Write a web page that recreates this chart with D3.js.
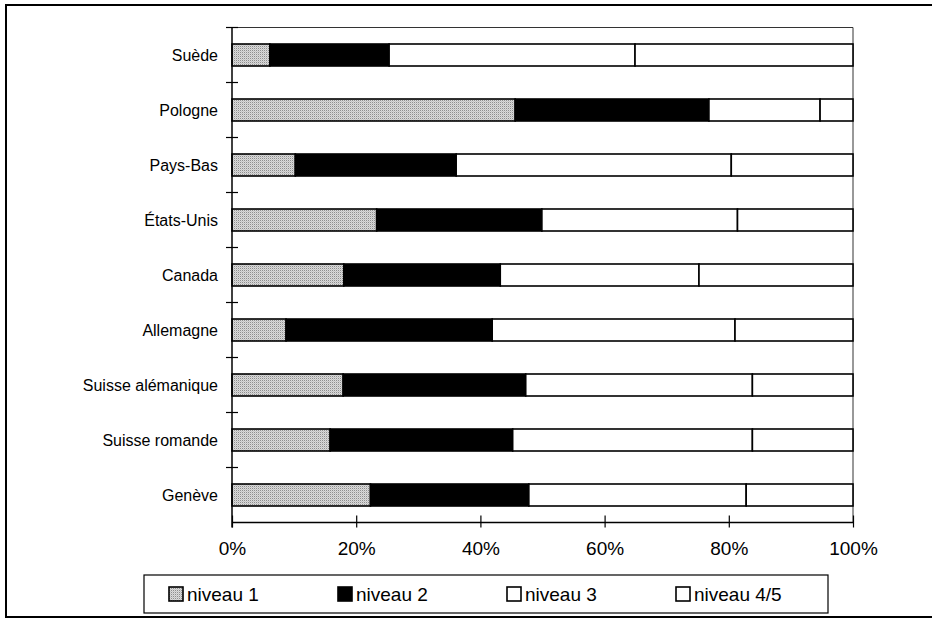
<!DOCTYPE html>
<html>
<head>
<meta charset="utf-8">
<script src="https://cdn.jsdelivr.net/npm/d3@7"></script>
<style>
  html, body { margin: 0; padding: 0; background: #fff; }
  svg { display: block; font-family: "Liberation Sans", Arial, Helvetica, sans-serif; }
</style>
</head>
<body>
<svg id="chart" width="932" height="620"></svg>
<script>
const categories = ["Suède", "Pologne", "Pays-Bas", "États-Unis", "Canada", "Allemagne", "Suisse alémanique", "Suisse romande", "Genève"];
const seriesNames = ["niveau 1", "niveau 2", "niveau 3", "niveau 4/5"];
const niveau1  = [6.1, 45.6, 10.2, 23.3, 18.0, 8.7, 17.9, 15.8, 22.3];
const niveau2  = [19.2, 31.2, 25.9, 26.6, 25.2, 33.2, 29.4, 29.4, 25.5];
const niveau3  = [39.6, 17.9, 44.3, 31.5, 32.0, 39.1, 36.5, 38.6, 35.0];
const niveau45 = [35.1, 5.3, 19.6, 18.6, 24.8, 19.0, 16.2, 16.2, 17.2];
const xTickValues = [0, 20, 40, 60, 80, 100];
const xTickLabels = ["0%", "20%", "40%", "60%", "80%", "100%"];

const rows = categories.map((c, i) => ({
  cat: c,
  "niveau 1": niveau1[i],
  "niveau 2": niveau2[i],
  "niveau 3": niveau3[i],
  "niveau 4/5": niveau45[i]
}));

const svg = d3.select("#chart");
const defs = svg.append("defs");
const pat = defs.append("pattern").attr("id", "stipple")
  .attr("width", 2).attr("height", 2).attr("patternUnits", "userSpaceOnUse");
pat.append("rect").attr("width", 2).attr("height", 2).attr("fill", "#dadada");
pat.append("rect").attr("width", 1).attr("height", 1).attr("fill", "#8e8e8e");
pat.append("rect").attr("x", 1).attr("y", 1).attr("width", 1).attr("height", 1).attr("fill", "#c4c4c4");

const fills = {
  "niveau 1": "url(#stipple)",
  "niveau 2": "#000",
  "niveau 3": "#fff",
  "niveau 4/5": "#fff"
};

// outer frame
svg.append("rect").attr("x", 6).attr("y", 5).attr("width", 960).attr("height", 612)
  .attr("fill", "none").attr("stroke", "#000").attr("stroke-width", 2);

const margin = { left: 232, right: 853, top: 27.5, bottom: 522.5 };
const x = d3.scaleLinear().domain([0, 100]).range([margin.left, margin.right]);
const yb = d3.scaleBand().domain(categories).range([margin.top, margin.bottom]);
const barH = 22;

// plot frame (top and right)
svg.append("path")
  .attr("d", `M${margin.left},${margin.top}H${margin.right}V${margin.bottom}`)
  .attr("fill", "none").attr("stroke", "#333").attr("stroke-width", 1);

const stacked = d3.stack().keys(seriesNames)(rows);

const g = svg.append("g");
stacked.forEach(layer => {
  g.append("g").selectAll("rect").data(layer).join("rect")
    .attr("x", d => x(d[0]))
    .attr("y", d => yb(d.data.cat) + (yb.bandwidth() - barH) / 2)
    .attr("width", d => x(d[1]) - x(d[0]))
    .attr("height", barH)
    .attr("fill", fills[layer.key])
    .attr("stroke", "#000")
    .attr("stroke-width", 1.6);
});

// y axis line with crossing ticks at band boundaries
const yAxisG = svg.append("g");
yAxisG.append("line").attr("x1", margin.left).attr("x2", margin.left)
  .attr("y1", margin.top).attr("y2", margin.bottom + 5)
  .attr("stroke", "#000").attr("stroke-width", 1.5);
yAxisG.selectAll("line.tk").data(categories.map(c => yb(c))).join("line")
  .attr("class", "tk")
  .attr("x1", margin.left - 6).attr("x2", margin.left + 6)
  .attr("y1", d => d).attr("y2", d => d)
  .attr("stroke", "#000").attr("stroke-width", 1.2);
yAxisG.selectAll("text").data(categories).join("text")
  .attr("x", margin.left - 14)
  .attr("y", d => yb(d) + yb.bandwidth() / 2)
  .attr("dy", "0.35em")
  .attr("text-anchor", "end")
  .attr("font-size", 16)
  .attr("fill", "#000")
  .text(d => d);

// x axis
const xAxis = d3.axisBottom(x).tickValues(xTickValues)
  .tickFormat((d, i) => xTickLabels[i]).tickSize(5).tickPadding(14);
const xg = svg.append("g").attr("transform", `translate(0,${margin.bottom})`).call(xAxis);
xg.select(".domain").attr("stroke", "#000").attr("stroke-width", 1.5).attr("d", `M${margin.left},0H${margin.right}`);
xg.selectAll(".tick line").attr("y1", -7).attr("y2", 5).attr("stroke", "#000").attr("stroke-width", 1.2);
xg.selectAll(".tick text").attr("font-size", 19).attr("fill", "#000")
  .attr("font-family", "\"Liberation Sans\", Arial, Helvetica, sans-serif");

// legend
const lg = svg.append("g");
const lgX = 144, lgY = 575, lgW = 684, lgH = 38;
lg.append("rect").attr("x", lgX).attr("y", lgY).attr("width", lgW).attr("height", lgH)
  .attr("fill", "#fff").attr("stroke", "#000").attr("stroke-width", 1.2);
const itemX = d3.scalePoint().domain(seriesNames).range([lgX + 25, lgX + 532]);
const items = lg.selectAll("g.item").data(seriesNames).join("g").attr("class", "item")
  .attr("transform", d => `translate(${itemX(d)},${lgY + lgH / 2})`);
items.append("rect").attr("x", 0).attr("y", -7).attr("width", 14).attr("height", 14)
  .attr("fill", d => fills[d]).attr("stroke", "#000").attr("stroke-width", 1.6);
items.append("text").attr("x", 18).attr("dy", "0.35em").attr("font-size", 19)
  .attr("fill", "#000").text(d => d);
</script>
</body>
</html>
